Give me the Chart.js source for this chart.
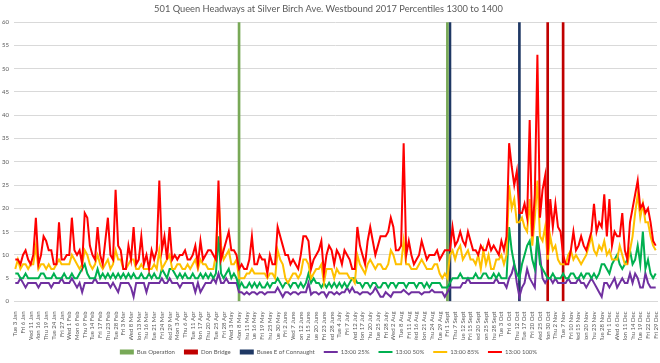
<!DOCTYPE html>
<html>
<head>
<meta charset="utf-8">
<script src="https://cdn.jsdelivr.net/npm/chart.js@4.4.1/dist/chart.umd.min.js"></script>
<style>
  html, body { margin: 0; padding: 0; background: #fff; }
  #wrap { width: 660px; height: 363px; }
</style>
</head>
<body>
<div id="wrap"><canvas id="chart"></canvas></div>
<script>
// weekdays of 2017, minus the statutory holidays (no service data those days)
const holidays = ['2017-01-02', '2017-02-20', '2017-04-14', '2017-05-22', '2017-07-03',
  '2017-08-07', '2017-09-04', '2017-10-09', '2017-12-25', '2017-12-26'];
const dayNames = ['Sun', 'Mon', 'Tue', 'Wed', 'Thu', 'Fri', 'Sat'];
const monthNames = ['Jan', 'Feb', 'Mar', 'Apr', 'May', 'June', 'July', 'Aug', 'Sept', 'Oct', 'Nov', 'Dec'];

const labels = [];
for (let d = new Date(Date.UTC(2017, 0, 1)); d.getUTCFullYear() === 2017; d.setUTCDate(d.getUTCDate() + 1)) {
  const dow = d.getUTCDay();
  if (dow === 0 || dow === 6) continue;
  if (holidays.includes(d.toISOString().slice(0, 10))) continue;
  labels.push(dayNames[dow] + ' ' + d.getUTCDate() + ' ' + monthNames[d.getUTCMonth()]);
}

// event markers (drawn as full height bars)
const busOperation = ['Mon 8 May', 'Fri 1 Sept'];
const donBridge = ['Mon 30 Oct', 'Tue 7 Nov'];
const connaught = ['Tue 5 Sept', 'Fri 13 Oct'];
const markerTop = 60;

// headway percentiles, minutes
const p25 = [
  4, 4, 5, 4, 3, 4, 4, 4, 4, 3,  4, 4, 4, 4, 3, 4, 4, 4, 5, 4,
  4, 4, 5, 4, 3, 4, 2, 4, 4, 4,  4, 5, 4, 4, 4, 4, 4, 3, 4, 3,
  2, 4, 4, 4, 4, 3, 1, 4, 4, 4,  4, 2, 4, 4, 4, 4, 4, 5, 4, 4,
  5, 4, 4, 4, 3, 4, 4, 4, 4, 4,  2, 4, 2, 3, 4, 4, 4, 5, 4, 6,
  4, 4, 5, 4, 4, 4, 4, 2, 2, 1.5,  2, 1.5, 2, 2, 1.5, 2, 2, 1.5, 2, 2,
  2, 2, 3, 2, 1, 2, 2, 1.5, 2, 2,  1.5, 2, 2, 2, 4, 1.5, 2, 2, 1.5, 2,
  2, 1, 2, 2, 1.5, 2, 1.5, 2, 2, 3,  2, 3, 2, 2, 1.5, 2, 2, 2, 1.5, 2,
  3, 2, 1, 1, 2, 1.5, 1, 2, 2, 2,  2, 2.5, 2, 1.5, 2, 2, 2, 2, 1.5, 2,
  2, 2, 2.5, 2, 2, 2, 2, 1, 2, 3,  3, 3, 3, 3, 4, 4, 5, 4, 4, 4,
  4, 4, 4, 4, 4, 4, 4, 5, 4, 4,  4, 3, 5, 6, 8, 4, 1, 3, 4, 7,
  5, 4, 3, 14, 10, 5, 4, 5, 5, 4,  5, 4, 4, 4, 4, 5, 4, 4, 4, 5,
  4, 4, 3, 4, 5, 4, 3, 2, 1, 4,  4, 3, 4, 5, 3, 4, 5, 4, 4, 6,
  4, 6, 5, 3, 3, 6, 4, 3, 3, 3
];
const p50 = [
  6, 6, 5, 5, 6, 5, 5, 5, 5, 5,  6, 6, 5, 5, 5, 6, 5, 5, 5, 6,
  5, 5, 6, 5, 5, 6, 7, 8, 6, 5,  5, 5, 7, 5, 6, 5, 6, 5, 6, 5,
  6, 5, 6, 5, 6, 5, 6, 5, 5, 6,  5, 5, 6, 5, 6, 5, 5, 7, 6, 5,
  7, 7, 6, 5, 6, 5, 6, 5, 5, 6,  5, 5, 6, 5, 6, 5, 6, 5, 6, 14,
  6, 5, 6, 7, 5, 6, 5, 3, 4, 3,  3, 4, 3, 4, 3, 4, 3, 3, 4, 3,
  4, 4, 5, 4, 3, 4, 4, 3, 4, 4,  3, 4, 3, 4, 6, 4, 5, 4, 4, 3,
  4, 3, 4, 3, 4, 3, 4, 3, 4, 3,  4, 5, 5, 4, 4, 3, 4, 4, 3, 4,
  4, 3, 3, 4, 4, 3, 4, 4, 3, 4,  4, 4, 3, 4, 4, 4, 3, 4, 4, 3,
  4, 3, 4, 4, 4, 4, 3, 3, 3, 4,  5, 5, 5, 6, 5, 5, 5, 5, 5, 6,
  5, 5, 6, 6, 5, 5, 6, 5, 6, 5,  5, 5, 16, 11, 8, 6, 5, 8, 10, 12,
  13, 9, 7, 14, 8, 7, 6, 5, 5, 6,  5, 5, 5, 6, 5, 5, 6, 6, 5, 5,
  6, 5, 6, 6, 5, 6, 5, 6, 8, 8,  7, 6, 8, 9, 10, 8, 7, 8, 9, 11,
  8, 9, 12, 8, 15, 7, 9, 6, 5, 6
];
const p85 = [
  7, 9, 7, 8, 8, 7, 8, 8, 12, 7,  8, 8, 7, 8, 7, 7, 8, 9, 8, 8,
  8, 8, 10, 9, 8, 7, 8, 11, 10, 8,  7, 8, 10, 8, 7, 8, 9, 7, 8, 11,
  9, 9, 7, 7, 8, 9, 9, 7, 7, 8,  7, 7, 7, 7, 8, 7, 11, 7, 8, 9,
  10, 7, 7, 8, 8, 7, 7, 8, 7, 8,  9, 7, 9, 8, 8, 7, 7, 7, 10, 23,
  12, 9, 10, 11, 8, 8, 9, 5, 5, 5,  6, 6, 7, 6, 6, 6, 6, 6, 5, 6,
  6, 5, 11, 9, 8, 5, 4, 5, 6, 6,  5, 6, 9, 9, 8, 5, 6, 7, 7, 8,
  4, 7, 7, 7, 5, 7, 6, 6, 6, 6,  5, 5, 4, 10, 8, 7, 6, 8, 9, 8,
  7, 8, 8, 7, 7, 8, 11, 10, 8, 8,  8, 13, 8, 8, 7, 7, 7, 8, 9, 8,
  7, 7, 7, 8, 8, 6, 5, 6, 5, 10,  11, 9, 11, 12, 9, 10, 11, 9, 9, 8,
  10, 7, 11, 8, 10, 7, 7, 9, 9, 10,  8, 10, 25, 20, 22, 17, 17, 18, 16, 15,
  22, 12, 18, 26, 14, 13, 16, 9, 14, 11,  12, 9, 8, 8, 8, 10, 11, 9, 10, 9,
  8, 9, 10, 12, 14, 11, 10, 12, 11, 13,  10, 11, 9, 9, 9, 12, 10, 8, 8, 11,
  14, 19, 23, 18, 21, 17, 17, 14, 12, 11
];
const p100 = [
  9, 9, 8, 10, 11, 9, 8, 10, 18, 8,  10, 14, 13, 11, 11, 8, 8, 17, 9, 9,
  10, 10, 18, 11, 10, 11, 8, 19, 18, 12,  10, 9, 16, 10, 8, 13, 18, 10, 9, 24,
  12, 11, 7, 7, 12, 9, 16, 8, 9, 14,  8, 10, 7, 11, 9, 11, 26, 11, 14, 9,
  16, 9, 10, 9, 10, 10, 11, 9, 9, 10,  12, 8, 13, 9, 10, 11, 11, 10, 9, 26,
  9, 11, 13, 15, 11, 11, 10, 7, 8, 7,  7, 9, 14, 8, 8, 10, 9, 9, 6, 10,
  8, 8, 16, 14, 12, 10, 10, 8, 9, 8,  7, 10, 14, 14, 13, 7, 9, 10, 11, 13,
  6, 10, 12, 11, 8, 11, 10, 8, 11, 10,  9, 7, 7, 16, 12, 10, 8, 13, 16, 13,
  10, 12, 14, 14, 14, 15, 18, 16, 11, 11,  12, 34, 10, 13, 10, 8, 9, 10, 13, 11,
  9, 10, 10, 10, 11, 9, 10, 11, 11, 11,  16, 12, 13, 15, 13, 12, 15, 13, 11, 11,
  10, 12, 11, 11, 13, 11, 12, 11, 10, 13,  11, 14, 34, 29, 25, 28, 19, 19, 21, 18,
  39, 14, 23, 53, 18, 24, 27, 10, 22, 16,  21, 16, 15, 10, 8, 8, 11, 15, 11, 12,
  14, 12, 11, 13, 15, 21, 15, 17, 16, 23,  14, 22, 12, 15, 14, 14, 19, 11, 9, 17,
  20, 23, 26, 20, 21, 19, 20, 17, 13, 12
];

const yMax = 60, yStep = 5;
const FONT = 'Lato, "Open Sans", sans-serif';

const marker = days => labels.map(l => days.includes(l) ? markerTop : null);
const lineSet = (label, data, color, order) => ({
  type: 'line', label, data, borderColor: color, backgroundColor: color,
  borderWidth: 2, pointRadius: 0, tension: 0, fill: false, order
});
const barSet = (label, days, color) => ({
  type: 'bar', label, data: marker(days), backgroundColor: color,
  borderWidth: 0, barThickness: 2, grouped: false, order: 10
});

new Chart(document.getElementById('chart'), {
  type: 'line',
  data: {
    labels,
    datasets: [
      barSet('Bus Operation', busOperation, '#78a957'),
      barSet('Don Bridge', donBridge, '#c00000'),
      barSet('Buses E of Connaught', connaught, '#1f3864'),
      lineSet('13:00 25%', p25, '#7030a0', 4),
      lineSet('13:00 50%', p50, '#00b050', 3),
      lineSet('13:00 85%', p85, '#ffc000', 2),
      lineSet('13:00 100%', p100, '#ff0000', 1)
    ]
  },
  options: {
    responsive: true,
    maintainAspectRatio: false,
    animation: false,
    devicePixelRatio: 1,
    layout: { padding: { left: 0, right: 3, top: 0, bottom: -2 } },
    plugins: {
      tooltip: { enabled: false },
      title: {
        display: true,
        text: '501 Queen Headways at Silver Birch Ave. Westbound 2017 Percentiles 1300 to 1400',
        color: '#595959',
        font: { family: FONT, size: 9.3, weight: 'normal' },
        padding: { top: 3, bottom: 8 }
      },
      legend: {
        position: 'bottom',
        labels: {
          sort: (a, b) => a.datasetIndex - b.datasetIndex,
          usePointStyle: true,
          pointStyleWidth: 14,
          boxHeight: 5,
          padding: 9,
          color: '#595959',
          font: { family: FONT, size: 6 },
          generateLabels(chart) {
            const items = Chart.defaults.plugins.legend.labels.generateLabels(chart);
            items.forEach(it => {
              const ds = chart.data.datasets[it.datasetIndex];
              if (ds.type === 'bar') { it.pointStyle = 'rect'; it.lineWidth = 0; }
              else { it.pointStyle = 'line'; it.lineWidth = 2; it.strokeStyle = ds.borderColor; }
            });
            return items;
          }
        }
      }
    },
    scales: {
      x: {
        offset: true,
        grid: { display: false },
        border: { color: '#d9d9d9' },
        afterFit: s => { s.height = 38.5; s.paddingLeft = 0; s.paddingRight = 0; },
        ticks: {
          autoSkip: false,
          minRotation: 90,
          maxRotation: 90,
          padding: 2,
          color: '#595959',
          font: { family: FONT, size: 6 },
          callback: (v, i) => (i % 3 === 0 ? labels[i] : null)
        }
      },
      y: {
        min: 0,
        max: yMax,
        afterFit: s => { s.width = 14; },
        border: { display: false },
        grid: { color: '#d9d9d9', drawTicks: false },
        ticks: {
          stepSize: yStep,
          padding: 5,
          color: '#595959',
          font: { family: FONT, size: 6 }
        }
      }
    }
  }
});
</script>
</body>
</html>
